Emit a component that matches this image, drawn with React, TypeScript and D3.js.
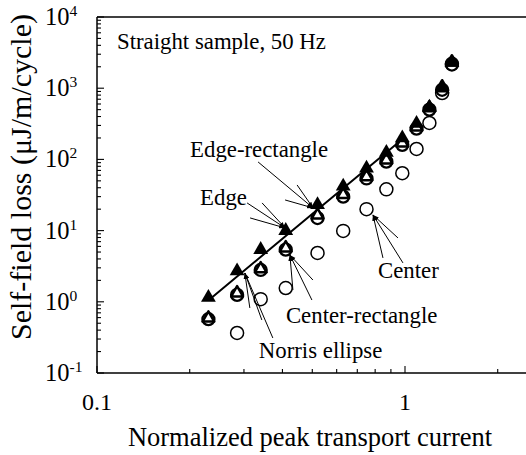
import React from "react";
import * as d3 from "d3";

// normalized peak transport current (I/Ic) for the measured points
const currents = [0.23, 0.285, 0.34, 0.41, 0.52, 0.63, 0.75, 0.87, 0.98, 1.09, 1.2, 1.32, 1.42];
// self-field loss, uJ/m/cycle
const edgeLoss = [1.15, 2.7, 5.4, 10, 23, 42, 75, 125, 200, 320, 540, 1000, 2300];
const edgeRectLoss = [0.59, 1.33, 2.9, 5.7, 16.5, 32, 57, 98, 170, 285, 530, 1040, 2330];
const centerRectLoss = [0.57, 1.25, 2.8, 5.4, 15, 30, 54, 93, 160, 270, 500, 950, 2150];
const centerCurrents = [0.285, 0.34, 0.41, 0.52, 0.63, 0.75, 0.87, 0.98, 1.09, 1.2, 1.32, 1.42];
const centerLoss = [0.365, 1.09, 1.56, 4.85, 9.9, 20, 38, 64, 140, 325, 855, 2200];
// Norris ellipse curve
const norrisCurrents = [0.235, 0.41, 0.64, 1.0];
const norrisLoss = [1.13, 8.4, 41.6, 207];

const xTickLabels = [
  { v: 0.1, label: "0.1" },
  { v: 1, label: "1" },
];
const yExponents = [-1, 0, 1, 2, 3, 4];

// callouts: target in data units, text / spokes as pixel offsets from target
const callouts = [
  { label: "Edge-rectangle", at: [0.503, 20.8], text: [-123, -51], spokes: [[-55, -46], [-16, -23], [-28, -8]] },
  { label: "Edge", at: [0.408, 10.9], text: [-85, -23], spokes: [[-38, -25], [-23, -25], [-35, -10]] },
  { label: "Center", at: [0.787, 16.6], text: [5, 63], spokes: [[10, 43], [25, 23], [30, 48]] },
  { label: "Center-rectangle", at: [0.423, 4.54], text: [-4, 68], spokes: [[3, 35], [22, 45], [23, 25]] },
  { label: "Norris ellipse", at: [0.302, 2.54], text: [14, 85], spokes: [[5, 35], [28, 65], [17, 47]] },
];

const W = 526;
const H = 455;
const m = { left: 97, top: 17, bottom: 373 };
const FONT = '"Liberation Serif", "Times New Roman", serif';

export default function App() {
  const x = d3.scaleLog().domain([0.1, 2.5]).range([m.left, m.left + 308 * Math.log10(25)]);
  const y = d3.scaleLog().domain([0.1, 10000]).range([m.bottom, m.top]);

  const xTicks = x.ticks();
  const yTicks = y.ticks();
  const isMajor = (v: number) => Math.abs(Math.log10(v) - Math.round(Math.log10(v))) < 1e-6;

  const tri = d3.symbol().type(d3.symbolTriangle).size(95)();
  const triOpen = d3.symbol().type(d3.symbolTriangle).size(60)();

  const line = d3
    .line<number>()
    .x((d) => x(d))
    .y((_, i) => y(norrisLoss[i]));

  return (
    <svg width={W} height={H} style={{ position: "absolute", left: 0, top: 0, background: "#fff" }}>
      <defs>
        <marker id="arr" viewBox="0 0 10 10" refX="10" refY="5" markerWidth="6" markerHeight="6" orient="auto">
          <path d="M0,1.5 L10,5 L0,8.5 z" fill="#000" />
        </marker>
      </defs>

      {/* frame */}
      <line x1={m.left} x2={W} y1={m.top} y2={m.top} stroke="#000" strokeWidth={1.5} />
      <line x1={m.left} x2={W} y1={m.bottom} y2={m.bottom} stroke="#000" strokeWidth={1.5} />
      <line x1={m.left} x2={m.left} y1={m.top} y2={m.bottom} stroke="#000" strokeWidth={1.5} />

      {/* y ticks */}
      {yTicks.map((t, i) => (
        <line key={"yt" + i} x1={m.left} x2={m.left + (isMajor(t) ? 7 : 4)} y1={y(t)} y2={y(t)} stroke="#000" strokeWidth={1.1} />
      ))}
      {/* x ticks */}
      {xTicks.map((t, i) => (
        <line key={"xt" + i} x1={x(t)} x2={x(t)} y1={m.bottom} y2={m.bottom - (isMajor(t) ? 7 : 4)} stroke="#000" strokeWidth={1.1} />
      ))}

      {/* y tick labels */}
      {yExponents.map((e) => (
        <text key={"yl" + e} x={45} y={y(Math.pow(10, e)) + 8} fontFamily={FONT} fontSize={24.5} fill="#000">
          10
          <tspan fontSize={15.5} dy={-9}>{e}</tspan>
        </text>
      ))}
      {/* x tick labels */}
      {xTickLabels.map((t) => (
        <text key={"xl" + t.label} x={x(t.v)} y={410} textAnchor="middle" fontFamily={FONT} fontSize={24} fill="#000">
          {t.label}
        </text>
      ))}

      {/* axis titles */}
      <text x={310} y={446} textAnchor="middle" fontFamily={FONT} fontSize={26.5} fill="#000">
        Normalized peak transport current
      </text>
      <text transform="translate(31,177) rotate(-90)" textAnchor="middle" fontFamily={FONT} fontSize={30} fill="#000">
        Self-field loss (μJ/m/cycle)
      </text>

      <text x={117} y={49} fontFamily={FONT} fontSize={22.8} fill="#000">
        Straight sample, 50 Hz
      </text>

      {/* Norris ellipse */}
      <path d={line(norrisCurrents) || ""} fill="none" stroke="#000" strokeWidth={2} />

      {/* Center */}
      {centerCurrents.map((c, i) => (
        <circle key={"c" + i} cx={x(c)} cy={y(centerLoss[i])} r={6.5} fill="#fff" stroke="#000" strokeWidth={1.5} />
      ))}
      {/* Center-rectangle */}
      {currents.map((c, i) => (
        <circle key={"cr" + i} cx={x(c)} cy={y(centerRectLoss[i])} r={6} fill="#fff" stroke="#000" strokeWidth={2.3} />
      ))}
      {/* Edge-rectangle */}
      {currents.map((c, i) => (
        <path key={"er" + i} d={triOpen || ""} transform={`translate(${x(c)},${y(edgeRectLoss[i])})`} fill="#fff" stroke="#000" strokeWidth={2.5} strokeLinejoin="round" />
      ))}
      {/* Edge */}
      {currents.map((c, i) => (
        <path key={"e" + i} d={tri || ""} transform={`translate(${x(c)},${y(edgeLoss[i])})`} fill="#000" />
      ))}

      {/* callouts */}
      {callouts.map((c) => {
        const px = x(c.at[0]);
        const py = y(c.at[1]);
        return (
          <g key={c.label}>
            {c.spokes.map((s, j) => (
              <line key={j} x1={px + s[0]} y1={py + s[1]} x2={px} y2={py} stroke="#000" strokeWidth={1} markerEnd="url(#arr)" />
            ))}
            <text x={px + c.text[0]} y={py + c.text[1]} fontFamily={FONT} fontSize={22.8} fill="#000">
              {c.label}
            </text>
          </g>
        );
      })}
    </svg>
  );
}
